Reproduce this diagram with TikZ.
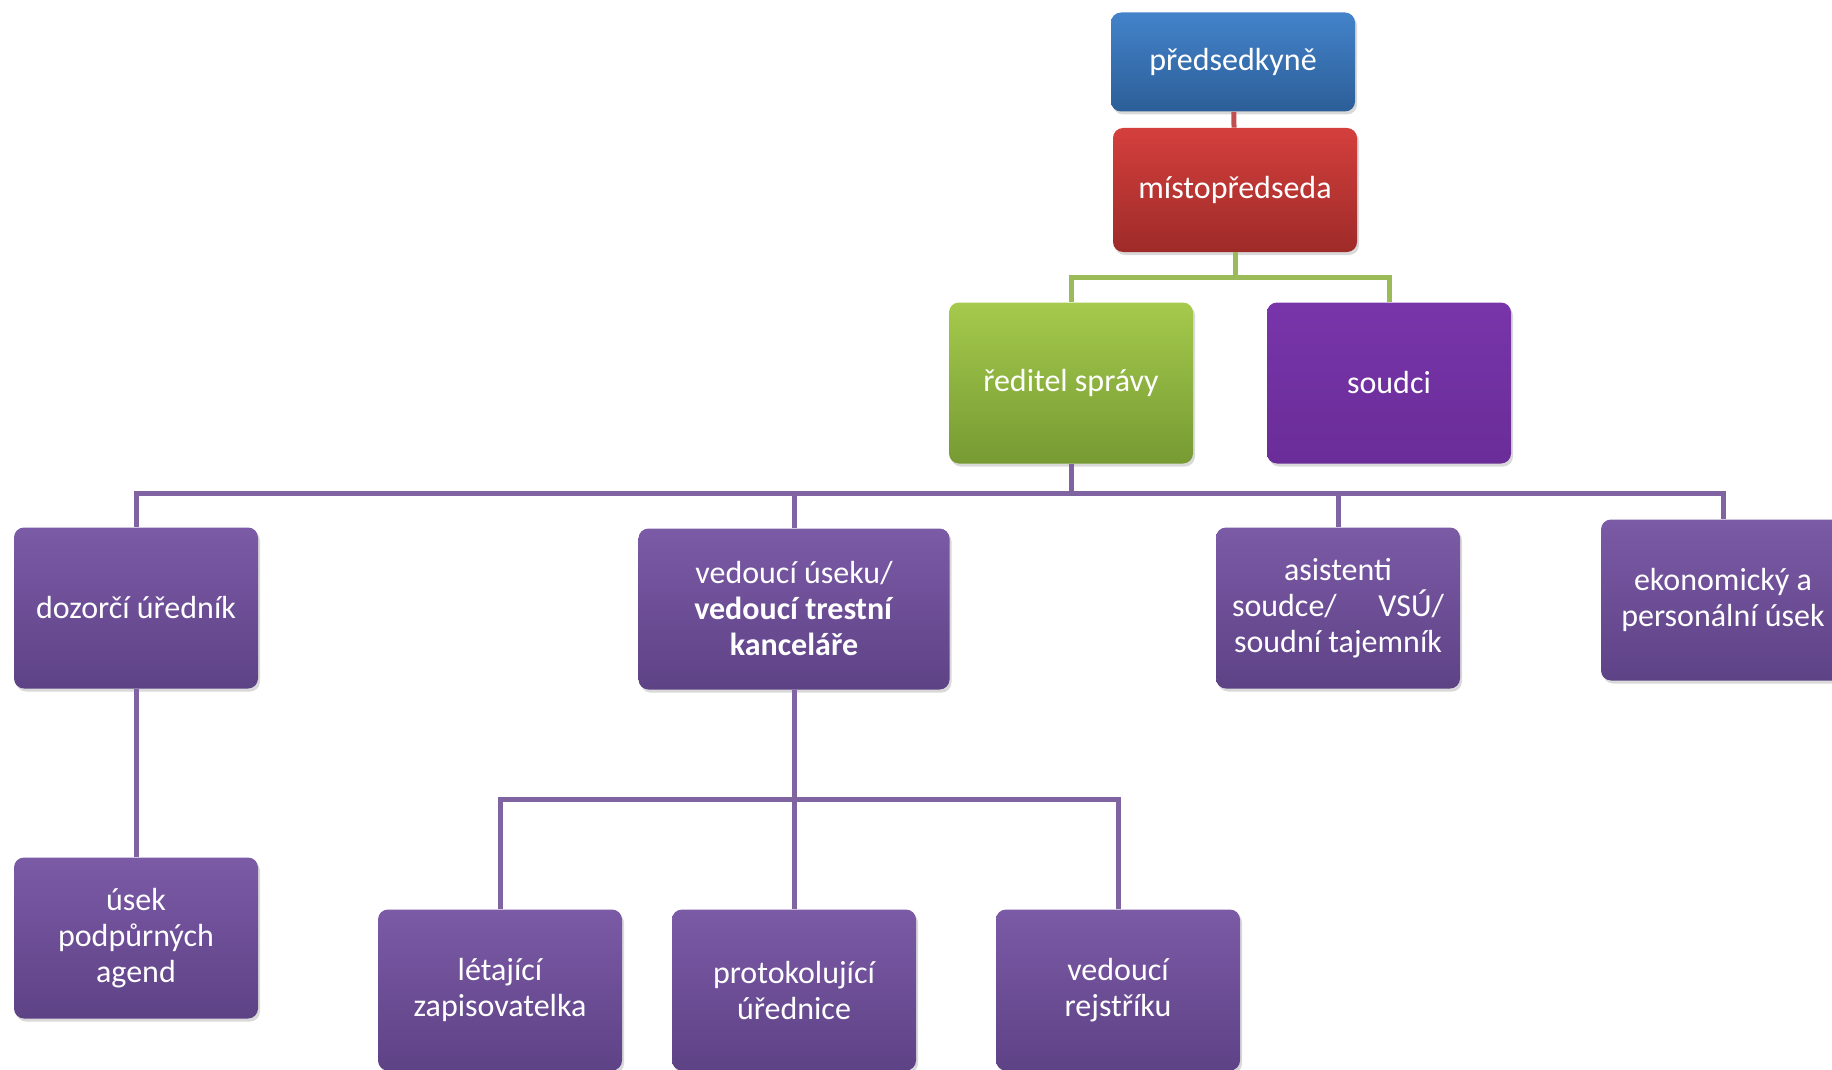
\documentclass[tikz,border=0pt]{standalone}
\usepackage{fontspec}
\setmainfont{Carlito}
\usetikzlibrary{shadows}

\definecolor{blueTop}{HTML}{4383CA}
\definecolor{blueBot}{HTML}{2C5E98}
\definecolor{redTop}{HTML}{D43F3C}
\definecolor{redBot}{HTML}{9E2B29}
\definecolor{greenTop}{HTML}{A5CA4C}
\definecolor{greenBot}{HTML}{779A33}
\definecolor{violetTop}{HTML}{7B5AA6}
\definecolor{violetBot}{HTML}{5E4286}
\definecolor{judgeTop}{HTML}{7835AA}
\definecolor{judgeBot}{HTML}{6A2D98}
\definecolor{redLine}{HTML}{C0504D}
\definecolor{greenLine}{HTML}{9BBB59}
\definecolor{violetLine}{HTML}{8064A2}

\begin{document}
\begin{tikzpicture}[
    x=0.5pt, y=-0.5pt,
    box/.style={
        rectangle,
        rounded corners=5pt,
        align=center,
        text=white,
        minimum width=122pt,
        minimum height=80.5pt,
        inner sep=2pt,
        font=\fontsize{16}{18}\selectfont,
        drop shadow={shadow xshift=1pt, shadow yshift=-1.5pt, opacity=0.3}
    },
    bluebox/.style={box, top color=blueTop, bottom color=blueBot, minimum height=49.5pt},
    redbox/.style={box, top color=redTop, bottom color=redBot, minimum height=62pt},
    greenbox/.style={box, top color=greenTop, bottom color=greenBot},
    violetbox/.style={box, top color=violetTop, bottom color=violetBot},
    judgebox/.style={box, top color=judgeTop, bottom color=judgeBot},
    link/.style={line width=2.5pt},
    redlink/.style={link, draw=redLine},
    greenlink/.style={link, draw=greenLine},
    violetlink/.style={link, draw=violetLine}
]
\useasboundingbox (0,0) rectangle (1832,1070);
\clip (0,0) rectangle (1832,1070);

% bus levels
\coordinate (gbus) at (0,277);
\coordinate (pbus) at (0,493);
\coordinate (vbus) at (0,799);

\node[bluebox] (predseda) at (1233,62) {předsedkyně};
\node[redbox] (mistop) at (1235,190) {místopředseda};
\node[greenbox] (reditel) at (1071,383) {ředitel správy};
\node[judgebox] (soudci) at (1389,383) {soudci};

\node[violetbox] (dozorci) at (136,608) {dozorčí úředník};
\node[violetbox, minimum width=155.5pt] (vedouci) at (794,609) {vedoucí úseku/\\\textbf{vedoucí trestní}\\\textbf{kanceláře}};
\node[violetbox] (asistenti) at (1338,608) {asistenti\\soudce/\hspace{1.3em}VSÚ/\\soudní tajemník};
\node[violetbox] (ekonom) at (1723,600) {ekonomický a\\personální úsek};

\node[violetbox] (usek) at (136,938) {úsek\\podpůrných\\agend};
\node[violetbox] (letajici) at (500,990) {létající\\zapisovatelka};
\node[violetbox] (protokol) at (794,990) {protokolující\\úřednice};
\node[violetbox] (rejstrik) at (1118,990) {vedoucí\\rejstříku};

\draw[redlink] (predseda) -- (mistop);

\draw[greenlink] (mistop.south) -- (mistop.south |- gbus) -| (reditel.north);
\draw[greenlink] (mistop.south |- gbus) -| (soudci.north);

\draw[violetlink] (reditel.south) -- (reditel.south |- pbus) -| (dozorci.north);
\draw[violetlink] (reditel.south |- pbus) -| (vedouci.north);
\draw[violetlink] (reditel.south |- pbus) -| (asistenti.north);
\draw[violetlink] (reditel.south |- pbus) -| (ekonom.north);

\draw[violetlink] (dozorci) -- (usek);

\draw[violetlink] (vedouci.south) -- (vedouci.south |- vbus) -| (letajici.north);
\draw[violetlink] (vedouci.south |- vbus) -- (protokol.north);
\draw[violetlink] (vedouci.south |- vbus) -| (rejstrik.north);

\end{tikzpicture}
\end{document}
